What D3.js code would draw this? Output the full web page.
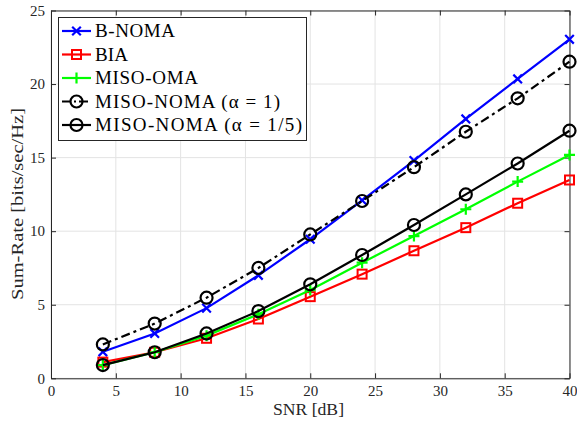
<!DOCTYPE html>
<html>
<head>
<meta charset="utf-8">
<script src="https://cdn.jsdelivr.net/npm/d3@7"></script>
<style>
  html, body { margin: 0; padding: 0; background: #fff; }
  svg { display: block; }
  text { font-family: "Liberation Serif", "DejaVu Serif", serif; }
</style>
</head>
<body>
<svg id="chart" width="577" height="425"></svg>
<script>
// Chart data
const snr = [4, 8, 12, 16, 20, 24, 28, 32, 36, 40];
const bNoma = [1.8, 3.05, 4.77, 7.0, 9.45, 12.1, 14.8, 17.63, 20.35, 23.04];
const bia = [1.1, 1.77, 2.72, 4.03, 5.55, 7.08, 8.67, 10.24, 11.9, 13.48];
const misoOma = [0.9, 1.77, 2.9, 4.35, 6.0, 7.86, 9.67, 11.49, 13.37, 15.18];
const misoNoma1 = [2.3, 3.72, 5.48, 7.5, 9.78, 12.05, 14.35, 16.76, 19.03, 21.52];
const misoNoma5 = [0.9, 1.77, 3.05, 4.57, 6.39, 8.38, 10.42, 12.5, 14.6, 16.83];
const xTicks = [0, 5, 10, 15, 20, 25, 30, 35, 40];
const yTicks = [0, 5, 10, 15, 20, 25];

const series = [
  { name: 'B-NOMA', values: bNoma, color: '#0000ff', marker: 'x', dash: null, w: 80 },
  { name: 'BIA', values: bia, color: '#ff0000', marker: 'square', dash: null, w: 33 },
  { name: 'MISO-OMA', values: misoOma, color: '#00ff00', marker: 'plus', dash: null, w: 103 },
  { name: 'MISO-NOMA (α = 1)', values: misoNoma1, color: '#000000', marker: 'circle', dash: '9,4,3,4', w: 185 },
  { name: 'MISO-NOMA (α = 1/5)', values: misoNoma5, color: '#000000', marker: 'circle', dash: null, w: 207 }
];

const svg = d3.select('#chart');
const M = { left: 51, right: 569.5, top: 10.5, bottom: 378.3 };

const x = d3.scaleLinear().domain([0, 40]).range([M.left, M.right]);
const y = d3.scaleLinear().domain([0, 25]).range([M.bottom, M.top]);

// grid
const grid = svg.append('g').attr('stroke', '#e3e3e3').attr('stroke-width', 1);
xTicks.forEach(t => grid.append('line').attr('x1', x(t)).attr('x2', x(t)).attr('y1', M.top).attr('y2', M.bottom));
yTicks.forEach(t => grid.append('line').attr('x1', M.left).attr('x2', M.right).attr('y1', y(t)).attr('y2', y(t)));

// axes
const xAxis = svg.append('g').attr('transform', `translate(0,${M.bottom})`)
  .call(d3.axisBottom(x).tickValues(xTicks).tickSizeInner(-5).tickSizeOuter(0).tickPadding(7));
const yAxis = svg.append('g').attr('transform', `translate(${M.left},0)`)
  .call(d3.axisLeft(y).tickValues(yTicks).tickSizeInner(-5).tickSizeOuter(0).tickPadding(6));
const xTop = svg.append('g').attr('transform', `translate(0,${M.top})`)
  .call(d3.axisTop(x).tickValues(xTicks).tickSizeInner(-5).tickSizeOuter(0).tickFormat(''));
const yRight = svg.append('g').attr('transform', `translate(${M.right},0)`)
  .call(d3.axisRight(y).tickValues(yTicks).tickSizeInner(-5).tickSizeOuter(0).tickFormat(''));
[xAxis, yAxis, xTop, yRight].forEach(a => {
  a.select('.domain').attr('stroke', '#262626').attr('stroke-width', 1);
  a.selectAll('.tick line').attr('stroke', '#262626');
  a.selectAll('.tick text').attr('fill', '#262626').style('font-size', '15px')
    .style('font-family', '"Liberation Serif", serif');
});

// axis labels
svg.append('text').attr('x', 308.5).attr('y', 415).attr('text-anchor', 'middle')
  .attr('fill', '#262626').style('font-size', '16px')
  .attr('textLength', 71).attr('lengthAdjust', 'spacingAndGlyphs').text('SNR [dB]');
svg.append('text').attr('transform', `translate(23,204) rotate(-90)`)
  .attr('text-anchor', 'middle').attr('fill', '#262626').style('font-size', '16.5px')
  .attr('textLength', 192).attr('lengthAdjust', 'spacingAndGlyphs')
  .text('Sum-Rate [bits/sec/Hz]');

function drawMarker(g, type, cx, cy, color) {
  if (type === 'circle') {
    g.append('circle').attr('cx', cx).attr('cy', cy).attr('r', 6)
      .attr('fill', 'none').attr('stroke', color).attr('stroke-width', 2.2);
  } else if (type === 'square') {
    g.append('rect').attr('x', cx - 4.5).attr('y', cy - 4.5).attr('width', 9).attr('height', 9)
      .attr('fill', 'none').attr('stroke', color).attr('stroke-width', 2);
  } else if (type === 'x') {
    const s = 4.3;
    g.append('path').attr('d', `M${cx - s},${cy - s}L${cx + s},${cy + s}M${cx - s},${cy + s}L${cx + s},${cy - s}`)
      .attr('stroke', color).attr('stroke-width', 2.2);
  } else if (type === 'plus') {
    const s = 5.5;
    g.append('path').attr('d', `M${cx - s},${cy}L${cx + s},${cy}M${cx},${cy - s}L${cx},${cy + s}`)
      .attr('stroke', color).attr('stroke-width', 2.2);
  }
}

const line = d3.line().x((d, i) => x(snr[i])).y(d => y(d));
const plot = svg.append('g');
series.forEach(s => {
  const g = plot.append('g');
  g.append('path').datum(s.values).attr('d', line).attr('fill', 'none')
    .attr('stroke', s.color).attr('stroke-width', 2.2)
    .attr('stroke-dasharray', s.dash);
  s.values.forEach((v, i) => drawMarker(g, s.marker, x(snr[i]), y(v), s.color));
});

// legend
const lg = svg.append('g');
lg.append('rect').attr('x', 58.5).attr('y', 17.5).attr('width', 248).attr('height', 123)
  .attr('fill', '#fff').attr('stroke', '#262626').attr('stroke-width', 1);
series.forEach((s, i) => {
  const cy = 31 + i * 23.5;
  lg.append('line').attr('x1', 62).attr('x2', 91).attr('y1', cy).attr('y2', cy)
    .attr('stroke', s.color).attr('stroke-width', 2.2).attr('stroke-dasharray', s.dash ? '9,3,2,3' : null);
  drawMarker(lg, s.marker, 76.5, cy, s.color);
  lg.append('text').attr('x', 95).attr('y', cy + 6).attr('fill', '#000')
    .style('font-size', '19px').attr('textLength', s.w).attr('lengthAdjust', 'spacing').text(s.name);
});
</script>
</body>
</html>
